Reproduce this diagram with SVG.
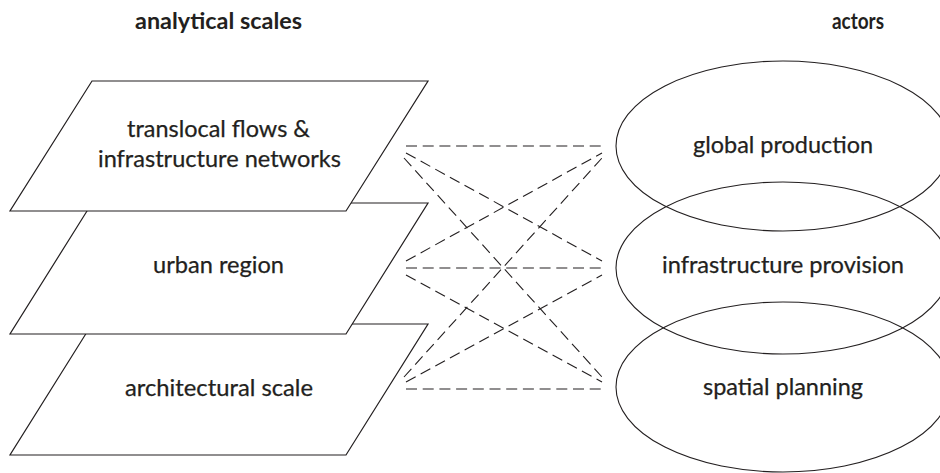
<svg xmlns="http://www.w3.org/2000/svg" width="940" height="473" viewBox="0 0 940 473">
<style>
.shape{fill:#fff;stroke:#231f20;stroke-width:1.2}
.ell{fill:none;stroke:#231f20;stroke-width:1.1}
.lbl{font-family:Lato,"Liberation Sans",sans-serif;font-size:22.5px;fill:#231f20;text-anchor:middle;stroke:#231f20;stroke-width:0.25}
.hdr{font-family:Lato,"Liberation Sans",sans-serif;font-size:22px;font-weight:bold;fill:#231f20;text-anchor:middle}
.dash{stroke:#231f20;stroke-width:1.1;stroke-dasharray:11 5.7;fill:none}
</style>
<rect width="940" height="473" fill="#fff"/>
<text class="hdr" x="218.5" y="29" textLength="167" lengthAdjust="spacingAndGlyphs">analytical scales</text>
<text class="hdr" x="858" y="29" textLength="52" lengthAdjust="spacingAndGlyphs">actors</text>
<g id="scale-architectural">
<polygon class="shape" points="92,324 428,324 346,455 10,455"/>
<text class="lbl" x="219" y="396" textLength="188" lengthAdjust="spacingAndGlyphs">architectural scale</text>
</g>
<g id="scale-urban">
<polygon class="shape" points="92,203 428,203 346,334 10,334"/>
<text class="lbl" x="218.5" y="273" textLength="131" lengthAdjust="spacingAndGlyphs">urban region</text>
</g>
<g id="scale-translocal">
<polygon class="shape" points="92,81 428,81 346,211 10,211"/>
<text class="lbl" x="218.5" y="137" textLength="183" lengthAdjust="spacingAndGlyphs">translocal flows &amp;</text>
<text class="lbl" x="219.5" y="167" textLength="243" lengthAdjust="spacingAndGlyphs">infrastructure networks</text>
</g>
<g id="connectors">
<line class="dash" x1="406" y1="146" x2="602" y2="146"/>
<line class="dash" x1="406" y1="153" x2="602" y2="261"/>
<line class="dash" x1="404" y1="158" x2="602" y2="377"/>
<line class="dash" x1="406" y1="261" x2="602" y2="153"/>
<line class="dash" x1="406" y1="268" x2="602" y2="268"/>
<line class="dash" x1="406" y1="275" x2="602" y2="382"/>
<line class="dash" x1="404" y1="377" x2="602" y2="158"/>
<line class="dash" x1="406" y1="382" x2="602" y2="275"/>
<line class="dash" x1="406" y1="389" x2="602" y2="389"/>
</g>
<g id="actor-global">
<ellipse class="ell" cx="783" cy="146" rx="167" ry="85"/>
<text class="lbl" x="783" y="153" textLength="180" lengthAdjust="spacingAndGlyphs">global production</text>
</g>
<g id="actor-infrastructure">
<ellipse class="ell" cx="783" cy="268" rx="167" ry="86"/>
<text class="lbl" x="783" y="273" textLength="242" lengthAdjust="spacingAndGlyphs">infrastructure provision</text>
</g>
<g id="actor-spatial">
<ellipse class="ell" cx="783" cy="387" rx="167" ry="85"/>
<text class="lbl" x="783" y="395" textLength="160" lengthAdjust="spacingAndGlyphs">spatial planning</text>
</g>
</svg>
